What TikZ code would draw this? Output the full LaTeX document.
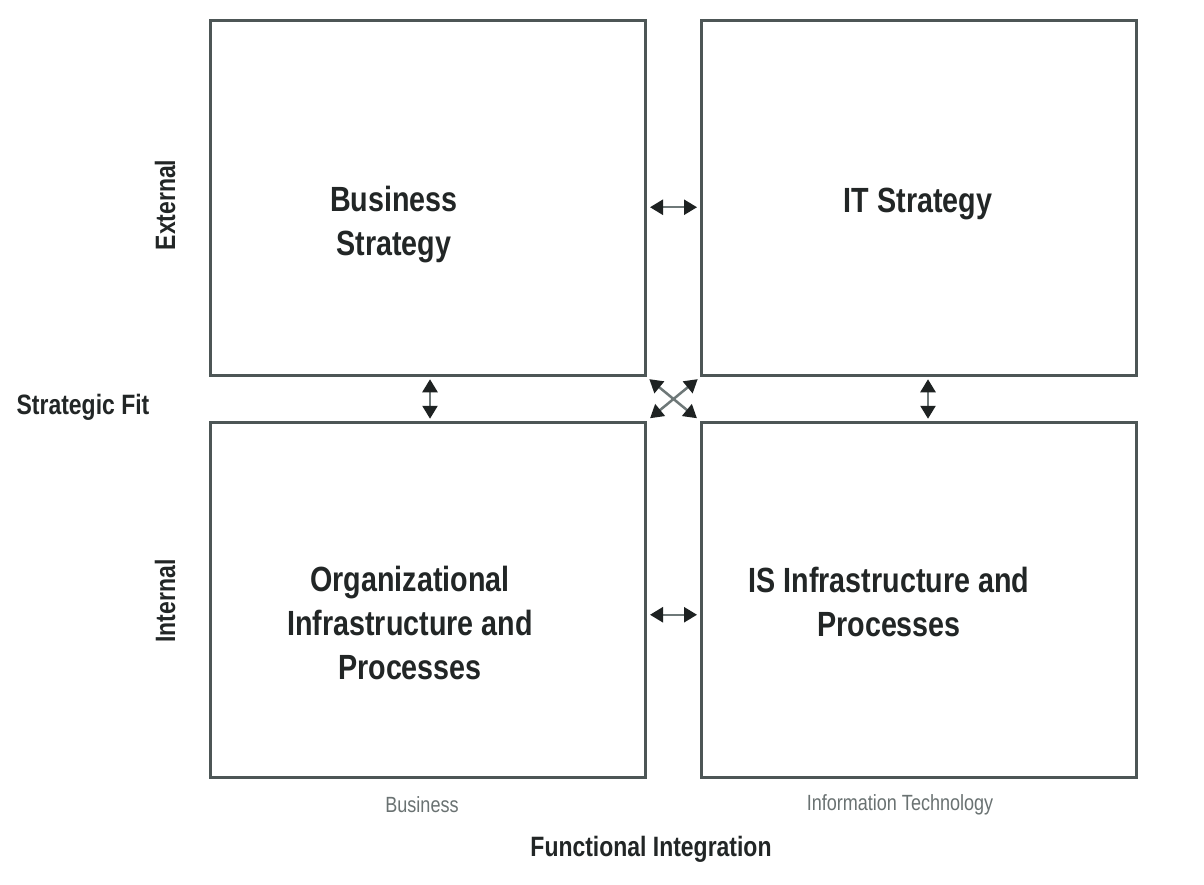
\documentclass[tikz,border=0pt]{standalone}
\usepackage{fontspec}
\setmainfont{Liberation Sans}[FakeStretch=0.82]
\usetikzlibrary{arrows.meta}
\definecolor{boxline}{HTML}{4D5656}
\definecolor{arrline}{HTML}{6E7878}
\definecolor{tipcol}{HTML}{1E2222}
\definecolor{txt}{HTML}{222626}
\definecolor{lighttxt}{HTML}{6A7272}
\begin{document}
\begin{tikzpicture}[x=1pt,y=-1pt,
  box/.style={draw=boxline, line width=3pt, minimum width=435pt, minimum height=355pt, inner sep=0pt},
  maintxt/.style={font=\fontsize{35}{44}\selectfont\bfseries, text=txt, align=center, inner sep=0pt},
  sidetxt/.style={font=\fontsize{28}{32}\selectfont\bfseries, text=txt, inner sep=0pt},
  smalltxt/.style={font=\fontsize{22}{26}\selectfont, text=lighttxt, inner sep=0pt},
  arr/.style={draw=arrline, line width=2.5pt,
    {Triangle[length=13pt,width=15pt,color=tipcol]}-{Triangle[length=13pt,width=15pt,color=tipcol]}}
]
\useasboundingbox (0,0) rectangle (1204,885);
\fill[white] (0,0) rectangle (1204,885);

% boxes
\node[box] (bs) at (428,198.25) {};
\node[box] (it) at (919,198.25) {};
\node[box] (oi) at (428,599.75) {};
\node[box] (is) at (919,599.75) {};

% box texts
\node[maintxt] (bst) at (394,225) {Business\\Strategy};
\node[maintxt] (itt) at (918,204) {IT Strategy};
\node[maintxt] (oit) at (410,623) {Organizational\\Infrastructure and\\Processes};
\node[maintxt] (ist) at (889,602) {IS Infrastructure and\\Processes};

% side labels
\node[sidetxt, rotate=90] (ext) at (165,205) {External};
\node[sidetxt, rotate=90] (int) at (165,601) {Internal};
\node[sidetxt] (sf) at (83,407) {Strategic Fit};
\node[smalltxt] (bl) at (422,805) {Business};
\node[smalltxt] (itl) at (900,805) {Information Technology};
\node[sidetxt] (fi) at (651,849) {Functional Integration};

% connectors
\draw[arr, shorten <=3pt, shorten >=3pt] ([yshift=-9pt]bs.east) -- ([yshift=-9pt]it.west);
\draw[arr, shorten <=3pt, shorten >=3pt] ([yshift=-15pt]oi.east) -- ([yshift=-15pt]is.west);
\draw[arr, shorten <=2pt, shorten >=2pt] ([xshift=2pt]bs.south) -- ([xshift=2pt]oi.north);
\draw[arr, shorten <=2pt, shorten >=2pt] ([xshift=9pt]it.south) -- ([xshift=9pt]is.north);
\draw[arr, shorten <=3pt, shorten >=4pt] (bs.south east) -- (is.north west);
\draw[arr, shorten <=3pt, shorten >=4pt] (it.south west) -- (oi.north east);
\end{tikzpicture}
\end{document}
